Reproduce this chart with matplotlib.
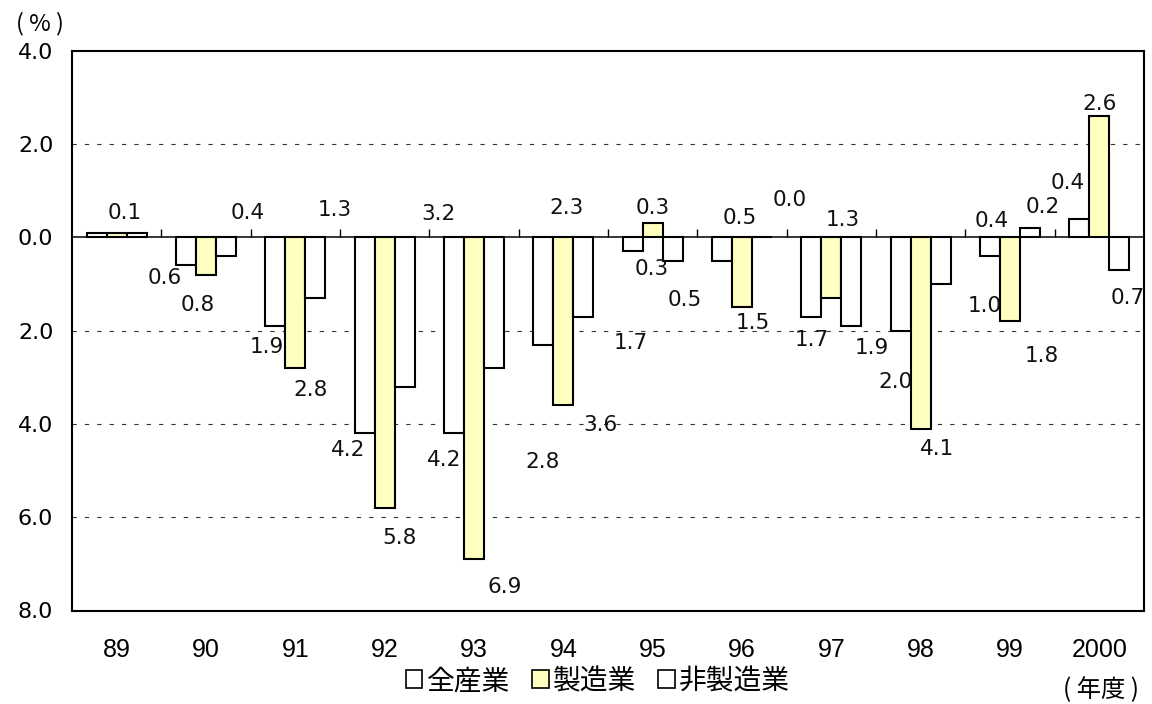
import numpy as np
import matplotlib
matplotlib.use("Agg")
import matplotlib.pyplot as plt
from matplotlib.patches import Patch
from matplotlib.font_manager import FontProperties

plt.rcParams["font.family"] = ["DejaVu Sans"]
plt.rcParams["lines.scale_dashes"] = False

JP = ["Noto Sans CJK JP", "DejaVu Sans"]

# 年度
years = ["89", "90", "91", "92", "93", "94", "95", "96", "97", "98", "99", "2000"]
series_names = ["全産業", "製造業", "非製造業"]

# 前年度比（%）
all_ind = [0.1, -0.6, -1.9, -4.2, -4.2, -2.3, -0.3, -0.5, -1.7, -2.0, -0.4, 0.4]
manuf = [0.1, -0.8, -2.8, -5.8, -6.9, -3.6, 0.3, -1.5, -1.3, -4.1, -1.8, 2.6]
non_manuf = [0.1, -0.4, -1.3, -3.2, -2.8, -1.7, -0.5, 0.0, -1.9, -1.0, 0.2, -0.7]

# data-label offsets from the bar end, in points (None = no label)
off_all = [None, (-15, -9), (-6, -15), (-12, -12), (-7, -19), (17, 98),
           (14, -13), (13, 31), (0, -17), (-4, -37), (1, 25), (-8, 26)]
off_manuf = [(6, 14), (-6, -22), (11, -16), (11, -22), (22, -20), (27, -14),
             (0, 11), (8, -11), (8, 56), (12, -15), (23, -25), (0, 9)]
off_non = [None, (16, 31), (14, 63), (24, 124), (35, -68), (34, -19),
           (9, -28), (20, 27), (15, -16), (32, -16), (9, 15), (6, -20)]

colors = ["white", "#FFFFC0", "white"]

fig = plt.figure(figsize=(11.52, 7.04), dpi=100)
ax = fig.add_axes([72 / 1152, 1 - 610.5 / 704, (1144 - 72) / 1152, (610.5 - 50.7) / 704])

x = np.arange(len(years))
bw = 0.224
for k, (vals, offs, col) in enumerate(zip([all_ind, manuf, non_manuf],
                                          [off_all, off_manuf, off_non], colors)):
    xs = x + (k - 1) * bw
    ax.bar(xs, vals, width=bw, color=col, edgecolor="black", linewidth=1.5, zorder=3)
    for xi, v, o in zip(xs, vals, offs):
        if o is None:
            continue
        ax.annotate(f"{abs(v):.1f}", (xi, v), xytext=o, textcoords="offset points",
                    ha="center", va="center", fontsize=15.5, color="#111111", zorder=4)

# zero line with category separators
ax.axhline(0, color="black", linewidth=1.1, zorder=2)
ax.plot(x[:-1] + 0.5, np.zeros(len(x) - 1), linestyle="none", marker=2,
        markersize=6, markeredgewidth=1.0, color="black", zorder=2)

# dashed gridlines
for g in [2, -2, -4, -6]:
    ax.axhline(g, color="#333333", linewidth=0.8, linestyle=(0, (3.1, 5.8)), zorder=1)

ax.set_xlim(-0.5, len(years) - 0.5)
ax.set_ylim(-8, 4)
yt = [4, 2, 0, -2, -4, -6, -8]
ax.set_yticks(yt)
ax.set_yticklabels([f"{abs(t):.1f}" for t in yt], fontsize=16)
ax.tick_params(axis="y", length=0, pad=13.5)
ax.set_xticks(x)
ax.set_xticklabels(years, fontsize=18, fontfamily="Liberation Sans")
ax.tick_params(axis="x", length=0, pad=20)

for s in ax.spines.values():
    s.set_linewidth(1.5)
    s.set_color("black")

fig.text(40 / 1152, 1 - 24 / 704, "( % )", ha="center", va="center",
         fontsize=17, family=JP)
fig.text(1101 / 1152, 1 - 690 / 704, "( 年度 )", ha="center", va="center",
         fontsize=17.5, family=JP)

handles = [Patch(facecolor=c, edgecolor="black", linewidth=1.2) for c in colors]
fig.legend(handles, series_names, loc="center", bbox_to_anchor=(598 / 1152, 1 - 681 / 704),
           ncol=3, frameon=False, prop=FontProperties(family=JP, size=20),
           handlelength=0.6, handleheight=0.6, handletextpad=0.15,
           columnspacing=0.8, borderpad=0)

fig.savefig("out.png", dpi=100)
